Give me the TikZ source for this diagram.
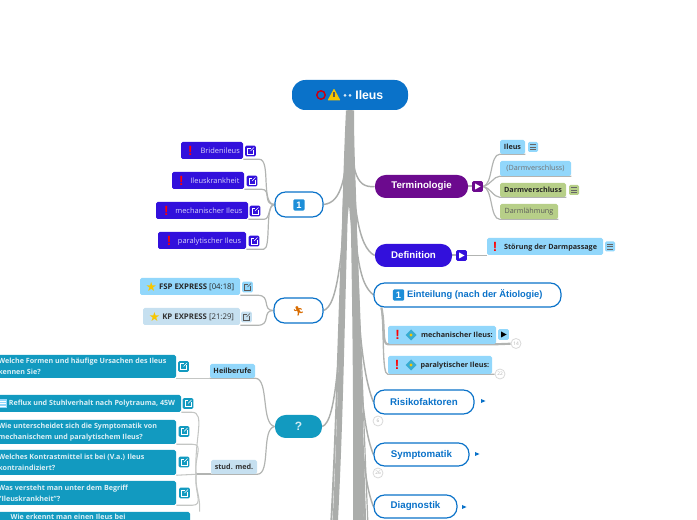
\documentclass[tikz,border=0pt]{standalone}
\usepackage{fontspec}
\setmainfont{Open Sans}
\newfontfamily\lib{Liberation Sans}
\newfontfamily\dv{DejaVu Sans}
\newfontfamily\emo{Noto Emoji}
\usetikzlibrary{backgrounds,calc}
\definecolor{rootblue}{HTML}{0A72C9}
\definecolor{capblue}{HTML}{1C8ED8}
\definecolor{royal}{HTML}{3210DC}
\definecolor{purp}{HTML}{6C0A8E}
\definecolor{sky}{HTML}{92D7FB}
\definecolor{pale}{HTML}{C6E0F0}
\definecolor{olive}{HTML}{B7CF88}
\definecolor{teal1}{HTML}{129AC0}
\definecolor{trunk}{HTML}{ABADAB}
\definecolor{wire}{HTML}{C4C6C4}
\definecolor{wire2}{HTML}{B2B4B2}
\definecolor{gold}{HTML}{F7C600}
\newcommand{\bx}[7]{%
  \pgfmathsetmacro\mycx{(#3+#5)/2}\pgfmathsetmacro\mycy{(#4+#6)/2}%
  \pgfmathsetmacro\myw{(#5-#3)*.75}\pgfmathsetmacro\myh{(#6-#4)*.75}%
  \node[#1,minimum width=\myw pt,minimum height=\myh pt,inner sep=0pt] (#2) at (\mycx,\mycy) {#7};}
\newcommand{\wrn}{\raisebox{-1.3pt}{\color{red}\lib\fontsize{10}{10}\selectfont\bfseries !}}
\newcommand{\smallstar}{\raisebox{-1pt}{\dv\fontsize{9.5}{9.5}\selectfont\color{gold}★}}
\tikzset{
  x=0.75pt,y=-0.75pt,
  rootbox/.style={fill=rootblue,rounded corners=10pt,text=white,font=\lib\bfseries\fontsize{9.2}{10}\selectfont},
  mainfill/.style={fill=#1,rounded corners=8pt,text=white,font=\lib\bfseries\fontsize{7.3}{9}\selectfont},
  mainline/.style={draw=rootblue,line width=.9pt,fill=white,rounded corners=8pt,text=rootblue,font=\lib\bfseries\fontsize{7.3}{9}\selectfont},
  leafA/.style={fill=royal,rounded corners=1.2pt,text=white!82!royal,font=\fontsize{5.6}{6}\selectfont},
  leafS/.style={fill=sky,rounded corners=1.2pt,text=black!85,font=\fontsize{5.4}{6}\selectfont\bfseries},
  leafP/.style={fill=pale,rounded corners=1.2pt,text=black!80,font=\fontsize{5.4}{6}\selectfont\bfseries},
  leafG/.style={fill=olive,rounded corners=1.2pt,text=black!85,font=\fontsize{5.4}{6}\selectfont\bfseries},
  leafT/.style={fill=teal1,rounded corners=1.2pt,text=white!85!teal1,font=\fontsize{5.35}{8}\selectfont\bfseries},
  linkbox/.style={fill=#1,rounded corners=1pt,minimum size=8pt,inner sep=0pt,
    path picture={\draw[sharp corners,white,line width=.4pt] ($(path picture bounding box.center)+(3,-1)$) -- ($(path picture bounding box.center)+(3,3)$) -- ($(path picture bounding box.center)+(-3,3)$) -- ($(path picture bounding box.center)+(-3,-3)$) -- ($(path picture bounding box.center)+(0,-3)$);
      \draw[sharp corners,white,line width=.4pt] ($(path picture bounding box.center)+(0,0)$) -- ($(path picture bounding box.center)+(3.5,-3.5)$);}},
  linkdark/.style={fill=#1,rounded corners=1pt,minimum size=8pt,inner sep=0pt,
    path picture={\draw[sharp corners,black!65,line width=.4pt] ($(path picture bounding box.center)+(3,-1)$) -- ($(path picture bounding box.center)+(3,3)$) -- ($(path picture bounding box.center)+(-3,3)$) -- ($(path picture bounding box.center)+(-3,-3)$) -- ($(path picture bounding box.center)+(0,-3)$);
      \draw[sharp corners,black!65,line width=.4pt] ($(path picture bounding box.center)+(0,0)$) -- ($(path picture bounding box.center)+(3.5,-3.5)$);}},
  menubox/.style={fill=#1,rounded corners=1pt,minimum size=7.5pt,inner sep=0pt,
    path picture={\foreach \d in {-2.5,0,2.5}{\draw[sharp corners,black!60,line width=.5pt] ($(path picture bounding box.center)+(-3,\d)$) -- ($(path picture bounding box.center)+(3,\d)$);}}},
  playbox/.style 2 args={fill=#1,rounded corners=1pt,minimum size=8pt,inner sep=0pt,
    path picture={\fill[sharp corners,#2] ($(path picture bounding box.center)+(-2.4,-3)$) -- ($(path picture bounding box.center)+(3,0)$) -- ($(path picture bounding box.center)+(-2.4,3)$) -- cycle;}},
  countdot/.style={circle,draw=black!15,line width=.6pt,fill=white,minimum size=7.5pt,inner sep=0pt,text=black!30,font=\fontsize{3.6}{4}\selectfont},
  strand/.style={draw=trunk,line width=#1,line cap=butt},
  twig/.style={draw=wire,line width=.8pt},
  twigB/.style={draw=wire2,line width=.9pt},
  keycap/.style={fill=#1,rounded corners=1pt,minimum size=8.5pt,inner sep=0pt,text=white,font=\lib\bfseries\fontsize{7}{7}\selectfont},
}
\begin{document}
\begin{tikzpicture}
\useasboundingbox (0,0) rectangle (697,520);
\clip (0,0) rectangle (697,520);
% root
\bx{rootbox}{root}{292}{80}{408}{110}{\hspace*{29pt}Ileus}
\draw[draw=red!65!purple!85!black,line width=1.1pt] (321,95) circle (4.2);
\fill[gold,rounded corners=.5pt] (334,88.5) -- (340.5,100.5) -- (327.5,100.5) -- cycle;
\fill[black!65] (333.4,92) rectangle (334.6,97.5);
\fill[white!85!rootblue] (345,95.5) circle (1.5) (350,95.5) circle (1.5);
% main right
\bx{mainfill=purp}{term}{375}{175}{468}{198}{Terminologie}
\bx{mainfill=royal}{defi}{375}{244}{452}{267}{Definition}
\bx{mainline}{eint}{374}{283}{561}{307}{\hspace*{11pt}\fontsize{7}{9}\selectfont Einteilung (nach der Ätiologie)}
\bx{mainline}{risk}{374}{390}{474}{414}{Risikofaktoren}
\bx{mainline}{symp}{374}{443}{469}{466}{Symptomatik}
\bx{mainline}{diag}{374}{495}{457}{518}{Diagnostik}
\node[keycap=capblue] (einticon) at (398.5,295) {1};
% terminologie children
\node[playbox={purp}{white}] (tplay) at (477.5,186.5) {};
\bx{leafS}{ileus}{500}{140}{525}{154}{Ileus}
\node[menubox=sky] (ileusm) at (533,147) {};
\bx{leafS,text=black!55}{dv1}{500}{161}{571}{176}{\mdseries (Darmverschluss)}
\bx{leafG}{dv2}{500}{183}{566}{197}{Darmverschluss}
\node[menubox=olive] (dv2m) at (574,190) {};
\bx{leafG,text=black!65}{dl}{500}{204}{558}{219}{\mdseries Darmlähmung}
% definition child
\node[playbox={royal}{white}] (dplay) at (461.5,255.5) {};
\bx{leafS}{stoe}{487}{238}{603}{255}{\wrn\hspace{5pt}Störung der Darmpassage}
\node[menubox=sky] (stoem) at (610,246.5) {};
% einteilung children
\bx{leafS}{mech}{388}{326}{496}{344}{\hspace*{3pt}\wrn\hspace{16pt}mechanischer Ileus:}
\node[playbox={sky}{black}] (mplay) at (503.5,334.5) {};
\node[countdot] (mc) at (516,343.5) {14};
\bx{leafS}{para}{388}{356}{492}{374}{\hspace*{3pt}\wrn\hspace{16pt}paralytischer Ileus:}
\node[countdot] (pc) at (500,374) {22};
\foreach \q in {335,365}{
  \fill[teal1!70!sky] (411,\q-5.5) -- (416.5,\q) -- (411,\q+5.5) -- (405.5,\q) -- cycle;
  \fill[gold] (411,\q) circle (1.7);
}
% collapsed markers
\fill[rootblue] (481,399) -- (485.5,401) -- (481,403) -- cycle;
\fill[rootblue] (475,452) -- (479.5,454) -- (475,456) -- cycle;
\fill[rootblue] (462,505) -- (466.5,507) -- (462,509) -- cycle;
\node[countdot] (rc) at (378,421) {6};
\node[countdot] (sc) at (378,473) {26};
% left group 1
\bx{mainline}{keyn}{275}{192}{323}{217}{}
\node[keycap=capblue] (keyi) at (299,205) {1};
\bx{leafA}{brid}{181}{142}{243}{159}{\hspace*{3pt}\wrn\hspace{6pt}Bridenileus}
\node[linkbox=royal] (bridl) at (250.5,151) {};
\bx{leafA}{krank}{172}{172}{244}{189}{\hspace*{2pt}\wrn\hspace{5pt}Ileuskrankheit}
\node[linkbox=royal] (krankl) at (252,181) {};
\bx{leafA}{mec}{156}{202}{248}{219}{\hspace*{2pt}\wrn\hspace{5pt}mechanischer Ileus}
\node[linkbox=royal] (mecl) at (255,211) {};
\bx{leafA}{par}{158}{232}{246}{249}{\hspace*{3pt}\wrn\hspace{5pt}paralytischer Ileus}
\node[linkbox=royal] (parl) at (254,241) {};
% left group 2
\bx{mainline}{run}{274}{298}{323}{323}{}
\node[font=\emo\fontsize{7}{7}\selectfont,text=orange!85!black,inner sep=0pt] (runi) at (298.5,311) {🏃};
\bx{leafS,font=\fontsize{5.85}{6}\selectfont\bfseries}{fsp}{140}{278}{240}{295}{\smallstar\hspace{1.5pt}FSP EXPRESS {\mdseries [04:18]}}
\node[linkdark=sky] (fspl) at (247.5,287) {};
\bx{leafP,font=\fontsize{5.85}{6}\selectfont\bfseries}{kp}{143}{308}{240}{325}{\smallstar\hspace{1.5pt}KP EXPRESS {\mdseries [21:29]}}
\node[linkdark=pale] (kpl) at (246.5,317) {};
% left group 3
\bx{mainfill=teal1,text=white!80!teal1}{quest}{275}{415}{322}{438}{\fontsize{9}{9}\selectfont ?}
\bx{leafS}{heil}{210}{364}{255}{378}{Heilberufe}
\bx{leafP}{stud}{211}{460}{257}{474}{stud. med.}
\bx{leafT}{q1}{-10}{355}{176}{378}{\begin{minipage}{127pt}\raggedright Welche Formen und häufige Ursachen des Ileus\\kennen Sie?\end{minipage}}
\node[linkbox=teal1] (q1l) at (183.5,366.5) {};
\bx{leafT}{q2}{-6}{395}{181}{412}{\begin{minipage}{134pt}\raggedright\hspace*{8pt}Reflux und Stuhlverhalt nach Polytrauma, 45W\end{minipage}}
\node[linkbox=teal1] (q2l) at (188,403.5) {};
\fill[sky] (-1,399) rectangle (7,408);
\foreach \d in {401,403.5,406}{\draw[white,line width=.5pt] (0,\d) -- (6,\d);}
\bx{leafT}{q3}{-10}{420}{176}{444}{\begin{minipage}{127pt}\raggedright Wie unterscheidet sich die Symptomatik von\\mechanischem und paralytischem Ileus?\end{minipage}}
\node[linkbox=teal1] (q3l) at (184,431.5) {};
\bx{leafT}{q4}{-10}{450}{176}{475}{\begin{minipage}{127pt}\raggedright Welches Kontrastmittel ist bei (V.a.) Ileus\\kontraindiziert?\end{minipage}}
\node[linkbox=teal1] (q4l) at (184,462) {};
\bx{leafT}{q5}{-10}{481}{176}{505}{\begin{minipage}{127pt}\raggedright Was versteht man unter dem Begriff\\"Ileuskrankheit"?\end{minipage}}
\node[linkbox=teal1] (q5l) at (184.5,493) {};
\bx{leafT}{q6}{-10}{512}{190}{533}{\begin{minipage}{127pt}\raggedright\hspace*{4pt}Wie erkennt man einen Ileus bei\\\phantom{x}\end{minipage}}
% free ends of the trunk
\coordinate (e1) at (331,526);
\coordinate (e2) at (335,526);
\coordinate (e3) at (355,526);
\coordinate (e4) at (358,526);
\coordinate (e5) at (362,526);
\coordinate (e6) at (365,526);
\coordinate (e7) at (368,526);
\coordinate (hub) at ([xshift=-11]stud.south west);
\begin{scope}[on background layer]
  % trunk
  \fill[trunk] ([xshift=-3]root.south) .. controls (344,150) and (343,190) .. (342,225)
     -- (345,240) -- (349,205) -- (352,240) -- (357,225)
     .. controls (356,190) and (354,150) .. ([xshift=3]root.south) -- cycle;
  \draw[strand=1.4pt] (root.south) .. controls (341,200) and (339,380) .. (e1);
  \draw[strand=4pt]   (root.south) .. controls (343,200) and (343,380) .. (e2);
  \draw[strand=3pt]   (root.south) .. controls (353,200) and (356,380) .. (e3);
  \draw[strand=3pt]   (root.south) .. controls (354,200) and (357,380) .. (e4);
  \draw[strand=3pt]   (root.south) .. controls (355,200) and (358,380) .. (e5);
  \draw[strand=2pt]   (root.south) .. controls (356,200) and (360,380) .. (e6);
  \draw[strand=.9pt]  (root.south) .. controls (356,200) and (362,380) .. (e7);
  % main branches
  \draw[strand=1.1pt] (root.south) .. controls +(1,60) and +(-20,2) .. (term.west);
  \draw[strand=1.1pt] (root.south) .. controls +(2,100) and +(-16,-8) .. (defi.west);
  \draw[strand=1.1pt] (root.south) .. controls +(3,150) and +(-14,-12) .. (eint.west);
  \draw[strand=1.1pt] (root.south) .. controls +(5,200) and +(-12,-30) .. (risk.west);
  \draw[strand=1.1pt] (root.south) .. controls +(6,250) and +(-12,-30) .. (symp.west);
  \draw[strand=1.1pt] (root.south) .. controls +(7,300) and +(-12,-30) .. (diag.west);
  \draw[strand=1.1pt] (root.south) .. controls +(-3,70) and +(18,-2) .. (keyn.east);
  \draw[strand=1.1pt] (root.south) .. controls +(-6,150) and +(14,-5) .. (run.east);
  \draw[strand=1.1pt] (root.south) .. controls +(-8,250) and +(14,-5) .. (quest.east);
  % terminologie
  \draw[wire2,line width=1.5pt] (term.east) -- (tplay.west);
  \draw[twigB] (tplay.east) .. controls +(10,-2) and +(-10,0) .. (ileus.south west) -- (ileus.south east);
  \draw[twigB] (tplay.east) .. controls +(7,-1) and +(-6,0) .. (dv1.south west) -- (dv1.south east);
  \draw[twigB] (tplay.east) .. controls +(7,1) and +(-6,0) .. (dv2.south west) -- (dv2.south east);
  \draw[twigB] (tplay.east) .. controls +(10,2) and +(-10,0) .. (dl.south west) -- (dl.south east);
  % definition
  \draw[wire2,line width=1.5pt] (defi.east) -- (dplay.west);
  \draw[twigB] (dplay.east) -- (stoe.south west |- dplay.east);
  % einteilung
  \draw[wire2,line width=1.6pt] ([xshift=6]eint.south west) .. controls +(4,18) and +(-6,0) .. (mech.south west) -- (mech.south east) -- (mc);
  \draw[wire2,line width=1pt] ([xshift=6]eint.south west) .. controls +(3,23) and +(-6,0) .. (para.south west) -- (para.south east) -- (pc);
  % group 1
  \draw[twigB] (keyn.west) .. controls +(-14,0) and +(12,0) .. ([xshift=12]brid.south east) -- (brid.south east);
  \draw[twigB] (keyn.west) .. controls +(-12,0) and +(10,0) .. ([xshift=13]krank.south east) -- (krank.south east);
  \draw[twigB] (keyn.west) .. controls +(-6,0) and +(6,0) .. ([xshift=12]mec.south east) -- (mec.south east);
  \draw[twigB] (keyn.west) .. controls +(-10,0) and +(8,0) .. ([xshift=13]par.south east) -- (par.south east);
  % group 2
  \draw[twigB] (run.west) .. controls +(-12,0) and +(14,0) .. ([xshift=13]fsp.south east) -- (fsp.south east);
  \draw[twigB] (run.west) .. controls +(-12,0) and +(14,0) .. ([xshift=13]kp.south east) -- (kp.south east);
  % group 3
  \draw[twigB] (quest.west) .. controls +(-14,-2) and +(14,0) .. (heil.south east) -- (heil.south west);
  \draw[twigB] (quest.west) .. controls +(-14,2) and +(14,0) .. (stud.south east) -- (stud.south west);
  \draw[twig] (heil.south west) -- (q1.south east |- heil.south west);
  \draw[twigB,line width=1.2pt] (stud.south west) -- (hub);
  \draw[twig] (hub) .. controls +(-2,-35) and +(14,0) .. ([xshift=8]q2.south east) -- (q2.south east);
  \draw[twig] (hub) .. controls +(-2,-18) and +(12,0) .. ([xshift=12]q3.south east) -- (q3.south east);
  \draw[twig] (hub) -- (q4.south east);
  \draw[twig] (hub) .. controls +(-2,18) and +(12,0) .. ([xshift=12]q5.south east) -- (q5.south east);
  \draw[twig] (hub) .. controls +(-1,15) and +(1,-15) .. ([xshift=7]q6.north east);
\end{scope}
\end{tikzpicture}
\end{document}
